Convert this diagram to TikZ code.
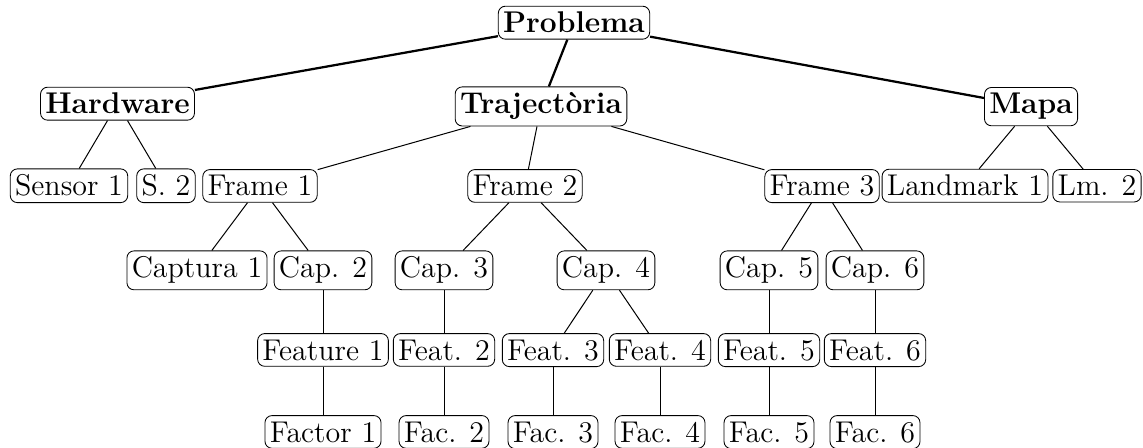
\documentclass[tikz,border=0pt]{standalone}
\begin{document}
\begin{tikzpicture}[x=0.467pt,y=-0.467pt,
  every node/.style={font=\fontsize{14}{17}\selectfont},
  box/.style={draw,rounded corners=3.3pt,inner xsep=2.25pt,inner ysep=2.8pt,anchor=base},
  top/.style={box,font=\fontsize{14}{17}\selectfont\bfseries},
  lnk/.style={line width=0.47pt},
  tlnk/.style={line width=1.05pt}]
\useasboundingbox (0,0) rectangle (1143,448);
% level 1
\node[top] (pr) at (574,33) {Problema};
% level 2
\node[top] (hw) at (117.5,114) {Hardware};
\node[top] (tr) at (541,114) {Trajectòria};
\node[top] (ma) at (1031,114) {Mapa};
% level 3
\node[box] (s1) at (69,196) {Sensor 1};
\node[box] (s2) at (166,196) {S. 2};
\node[box] (f1) at (260,196) {Frame 1};
\node[box] (f2) at (525,196) {Frame 2};
\node[box] (f3) at (822,196) {Frame 3};
\node[box] (l1) at (965,196) {Landmark 1};
\node[box] (l2) at (1097,196) {Lm. 2};
% level 4
\node[box] (c1) at (197,278) {Captura 1};
\node[box] (c2) at (323,278) {Cap. 2};
\node[box] (c3) at (444,278) {Cap. 3};
\node[box] (c4) at (606,278) {Cap. 4};
\node[box] (c5) at (769,278) {Cap. 5};
\node[box] (c6) at (875,278) {Cap. 6};
% level 5
\node[box] (e1) at (323,360) {Feature 1};
\node[box] (e2) at (444,360) {Feat. 2};
\node[box] (e3) at (553,360) {Feat. 3};
\node[box] (e4) at (660,360) {Feat. 4};
\node[box] (e5) at (769,360) {Feat. 5};
\node[box] (e6) at (875,360) {Feat. 6};
% level 6
\node[box] (a1) at (323,442) {Factor 1};
\node[box] (a2) at (444,442) {Fac. 2};
\node[box] (a3) at (553,442) {Fac. 3};
\node[box] (a4) at (660,442) {Fac. 4};
\node[box] (a5) at (769,442) {Fac. 5};
\node[box] (a6) at (875,442) {Fac. 6};
% edges
\draw[tlnk] (pr) -- (hw);
\draw[tlnk] (pr) -- (tr);
\draw[tlnk] (pr) -- (ma);
\draw[lnk] (hw) -- (s1);
\draw[lnk] (hw) -- (s2);
\draw[lnk] (tr) -- (f1);
\draw[lnk] (tr) -- (f2);
\draw[lnk] (tr) -- (f3);
\draw[lnk] (ma) -- (l1);
\draw[lnk] (ma) -- (l2);
\draw[lnk] (f1) -- (c1);
\draw[lnk] (f1) -- (c2);
\draw[lnk] (f2) -- (c3);
\draw[lnk] (f2) -- (c4);
\draw[lnk] (f3) -- (c5);
\draw[lnk] (f3) -- (c6);
\draw[lnk] (c2) -- (e1);
\draw[lnk] (c3) -- (e2);
\draw[lnk] (c4) -- (e3);
\draw[lnk] (c4) -- (e4);
\draw[lnk] (c5) -- (e5);
\draw[lnk] (c6) -- (e6);
\draw[lnk] (e1) -- (a1);
\draw[lnk] (e2) -- (a2);
\draw[lnk] (e3) -- (a3);
\draw[lnk] (e4) -- (a4);
\draw[lnk] (e5) -- (a5);
\draw[lnk] (e6) -- (a6);
\end{tikzpicture}
\end{document}
